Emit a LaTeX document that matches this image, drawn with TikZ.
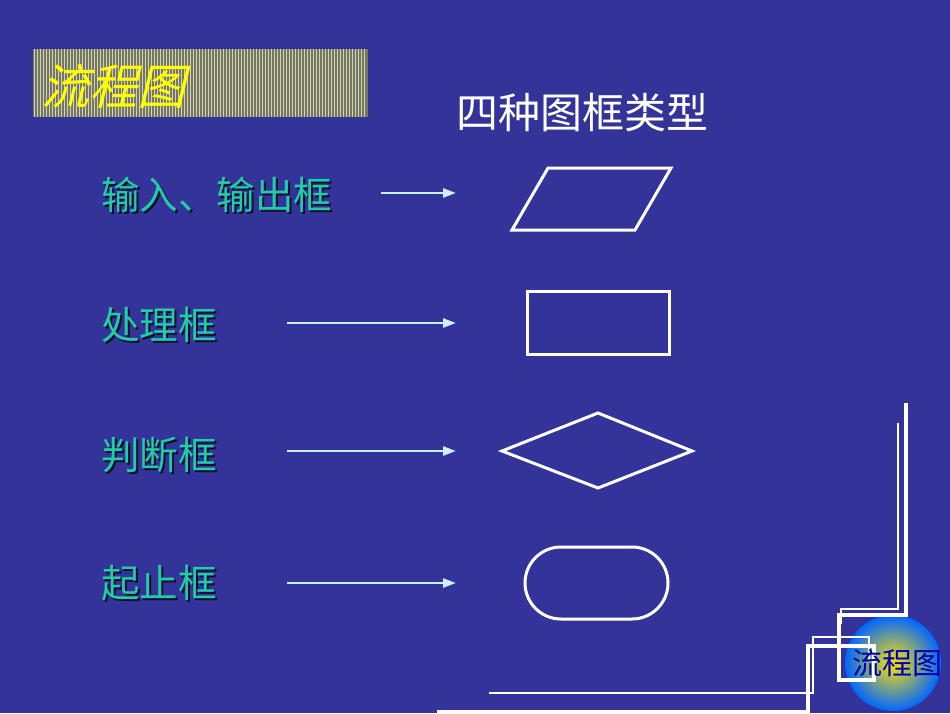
\documentclass[tikz,border=0pt]{standalone}
\usepackage{fontspec}
\newfontfamily\cjk{Noto Sans CJK SC}
\usetikzlibrary{arrows.meta}
\definecolor{bg}{HTML}{333399}
\definecolor{lab}{HTML}{22CCAA}
\definecolor{arr}{HTML}{CCF0FF}
\definecolor{olive}{HTML}{77775A}
\definecolor{ttl}{HTML}{FFFF00}
\begin{document}
\begin{tikzpicture}[x=1pt,y=-1pt,
  shp/.style={draw=white,line width=3pt},
  lbl/.style={anchor=west,inner sep=0,text=lab,font=\cjk\fontsize{38.5}{38.5}\selectfont},
  shd/.style={anchor=west,inner sep=0,text=black!70!bg,font=\cjk\fontsize{38.5}{38.5}\selectfont},
  ar/.style={draw=arr,line width=2.5pt,-{Triangle[length=13pt,width=9pt]}},
  frm/.style={draw=white,line width=3.2pt},
  frt/.style={draw=white,line width=2.2pt}]
\fill[bg] (0,0) rectangle (950,713);
\useasboundingbox (0,0) rectangle (950,713);
% title bar
\fill[olive] (33,49) rectangle (368,117);
\foreach \i in {0,...,110} {\draw[white!65!olive,line width=1pt] (34+3*\i,49) -- (34+3*\i,117);}
\node[inner sep=0,text=ttl,font=\cjk\fontsize{48}{48}\selectfont,xslant=0.25] (title) at (118,86) {流程图};
\node[inner sep=0,text=white,font=\cjk\fontsize{42}{42}\selectfont] (head) at (582,112) {四种图框类型};
% labels
\foreach \t/\y/\n in {输入、输出框/195/a,处理框/325/b,判断框/455/c,起止框/583/d}{
  \node[shd] at (103,\y+2) {\t};
  \node[lbl] (l\n) at (101,\y) {\t};
}
\coordinate (s1) at (381,193); \coordinate (e1) at (456,193);
\coordinate (s2) at (287,323); \coordinate (e2) at (456,323);
\coordinate (s3) at (287,451); \coordinate (e3) at (456,451);
\coordinate (s4) at (287,583); \coordinate (e4) at (456,583);
\foreach \k in {1,...,4}{\draw[ar] (s\k) -- (e\k);}
% shapes
\draw[shp] (512,230) -- (548,168) -- (671,168) -- (635,230) -- cycle;
\draw[shp] (527,291) rectangle (669,354);
\draw[shp] (502,451) -- (598,413) -- (692,451) -- (598,488) -- cycle;
\draw[shp,rounded corners=36pt] (525,547) rectangle (668,619);
% corner decoration
\shade[inner color=yellow!80!orange,outer color=blue!60!cyan] (893,663) circle (48);
\draw[frm] (906,403) -- (906,615) -- (839,615) -- (839,680) -- (874,680) -- (874,646) -- (808,646) -- (808,713);
\draw[frt] (898,423) -- (898,609) -- (841,609) -- (841,624);
\draw[frt] (489,693) -- (813,693) -- (813,637) -- (869,637) -- (869,660);
\draw[frm] (437,712) -- (808,712);
\node[inner sep=0,text=blue!70!black,font=\cjk\fontsize{30}{30}\selectfont] (logo) at (897,663) {流程图};
\end{tikzpicture}
\end{document}
